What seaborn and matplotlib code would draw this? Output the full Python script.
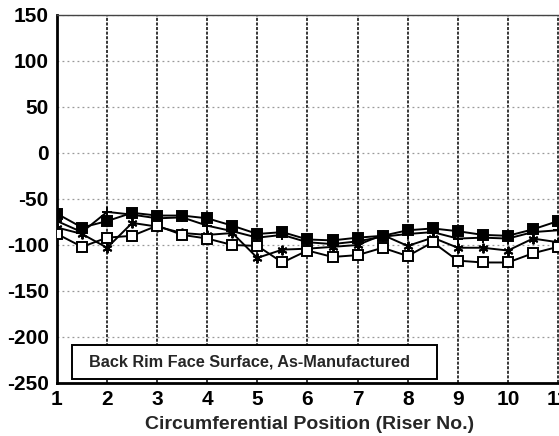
import pandas as pd
import matplotlib
matplotlib.use("Agg")
import matplotlib.pyplot as plt
import matplotlib.patches as mpatches
import seaborn as sns

# circumferential position, every half riser
position = [1, 1.5, 2, 2.5, 3, 3.5, 4, 4.5, 5, 5.5, 6, 6.5, 7, 7.5, 8, 8.5, 9, 9.5, 10, 10.5, 11]

filled_sq = [-66, -81, -74, -65, -68, -68, -71, -79, -88, -86, -94, -95, -92, -90, -84, -82, -85, -89, -90, -83, -74]
plus_line = [-74, -86, -64, -67, -71, -70, -79, -85, -92, -89, -97, -99, -96, -91, -88, -86, -93, -92, -93, -86, -84]
asterisk = [-81, -88, -103, -76, -80, -87, -89, -87, -114, -105, -104, -102, -100, -89, -101, -92, -103, -103, -106, -93, -97]
open_sq = [-88, -102, -92, -90, -79, -89, -93, -100, -101, -119, -106, -113, -111, -103, -112, -97, -117, -119, -119, -109, -102]

yticks = [150, 100, 50, 0, -50, -100, -150, -200, -250]
xticks = [1, 2, 3, 4, 5, 6, 7, 8, 9, 10, 11]

sns.set_style("white")
plt.rcParams["font.family"] = ["Liberation Sans", "DejaVu Sans"]

fig = plt.figure(figsize=(5.59, 4.36), dpi=100)
ax = fig.add_axes([57 / 559, 53 / 436, 506 / 559, 368 / 436])

series = [
    (filled_sq, "s", "black"),
    (plus_line, "+", "black"),
    (asterisk, (6, 2, 0), "black"),
    (open_sq, "s", "white"),
]
for vals, mk, face in series:
    df = pd.DataFrame({"pos": position, "val": vals})
    sns.lineplot(data=df, x="pos", y="val", ax=ax, color="black", lw=1.4,
                 marker=mk, markersize=7, markerfacecolor=face,
                 markeredgecolor="black", markeredgewidth=1.4, zorder=3)

ax.set_xlim(1, 11.1)
ax.set_ylim(-250, 150)
ax.set_xticks(xticks)
ax.set_yticks(yticks)
ax.set_xticklabels([str(t) for t in xticks], fontsize=15, fontweight="bold")
ax.set_yticklabels([str(t) for t in yticks], fontsize=15, fontweight="bold")
ax.set_xlabel("Circumferential Position (Riser No.)", fontsize=14,
              fontweight="bold", labelpad=5)
ax.set_ylabel("")

ax.grid(axis="y", color="#999999", linestyle=(0, (1.5, 2.5)), lw=0.9)
ax.grid(axis="x", color="black", linestyle=(0, (2, 1)), lw=1.1)

for side in ["left", "bottom"]:
    ax.spines[side].set_linewidth(2)
    ax.spines[side].set_color("black")
ax.spines["top"].set_linewidth(1)
ax.spines["top"].set_color("#444444")
ax.spines["right"].set_visible(False)

ax.tick_params(axis="y", direction="out", length=5, width=1.2, pad=1, colors="black")
ax.tick_params(axis="x", direction="inout", length=6, width=1.2, pad=2, colors="black")

# caption box
box = mpatches.Rectangle((0.0296, 0.01), 0.721, 0.093, transform=ax.transAxes,
                         fc="white", ec="black", lw=1.4, zorder=5)
ax.add_patch(box)
ax.text(0.0296 + 0.721 / 2 - 0.01, 0.01 + 0.093 / 2,
        "Back Rim Face Surface, As-Manufactured",
        transform=ax.transAxes, fontsize=11.7, fontweight="bold",
        ha="center", va="center", zorder=6)

legend = ax.get_legend()
if legend:
    legend.remove()

fig.savefig("out.png", dpi=100)
